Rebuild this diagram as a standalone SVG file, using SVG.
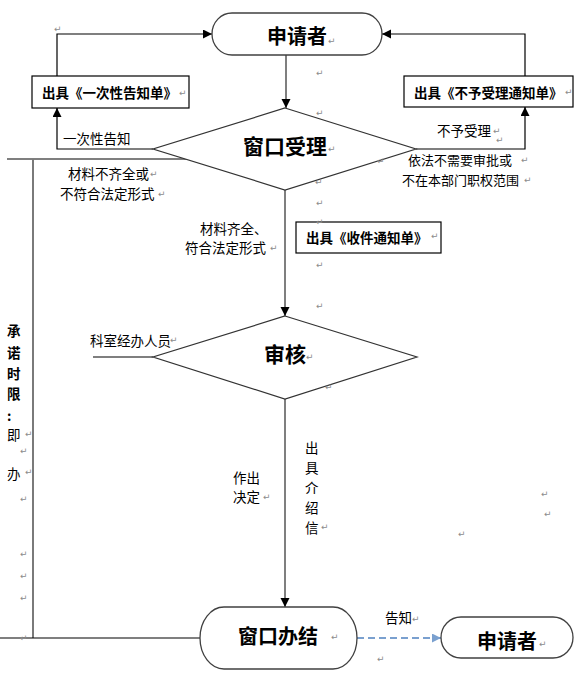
<svg xmlns="http://www.w3.org/2000/svg" width="580" height="676" viewBox="0 0 580 676">
<style>
.t{font-family:"Noto Sans CJK SC","Liberation Sans",sans-serif;fill:#000;}
.big{font-size:20px;font-weight:bold;}
.bx{font-size:13.5px;font-weight:bold;}
.lb{font-size:13.5px;}
.pm{font-family:"DejaVu Sans",sans-serif;font-size:9px;fill:#8c8c8c;}
.shape{fill:#fff;stroke:#333;stroke-width:1.2;}
.term{fill:#fff;stroke:#404040;stroke-width:1.3;}
.box{fill:#fff;stroke:#000;stroke-width:1.2;}
.c{fill:none;stroke:#555;stroke-width:1.5;}
.cb{fill:none;stroke:#000;stroke-width:1.2;}
.cg{fill:none;stroke:#7a7a7a;stroke-width:2;}
.dash{fill:none;stroke:#7aa0cf;stroke-width:2;stroke-dasharray:7,4;}
</style>
<defs>
<marker id="ah" markerUnits="userSpaceOnUse" markerWidth="10" markerHeight="10" refX="9" refY="4.5" orient="auto">
<path d="M0,0 L9,4.5 L0,9 Z" fill="#000"/>
</marker>
<marker id="ahb" markerUnits="userSpaceOnUse" markerWidth="10" markerHeight="10" refX="9" refY="4.5" orient="auto">
<path d="M0,0 L9,4.5 L0,9 Z" fill="#7aa0cf"/>
</marker>
</defs>
<rect width="580" height="676" fill="#fff"/>

<g id="connectors">
<path class="c" d="M286,55 L286,108" marker-end="url(#ah)"/>
<path class="cb" d="M153,149 L57,149 L57,108" marker-end="url(#ah)"/>
<path class="cb" d="M57,76 L57,34 L212,34" marker-end="url(#ah)"/>
<path class="cb" d="M416,149 L525,149 L525,107" marker-end="url(#ah)"/>
<path class="cb" d="M525,76 L525,34 L382,34" marker-end="url(#ah)"/>
<path class="cb" d="M7,159 L186,159"/>
<path class="cg" d="M33,159 L33,638"/>
<path class="cb" d="M0,638 L200,638"/>
<path class="c" d="M285,190 L285,316" marker-end="url(#ah)"/>
<path class="cb" d="M93,357 L153,357"/>
<path class="c" d="M285,399 L285,607" marker-end="url(#ah)"/>
<path class="dash" d="M357,638 L441,638" marker-end="url(#ahb)"/>
</g>

<g id="applicant-top">
<rect class="term" x="212" y="13" width="170" height="42" rx="20" ry="21"/>
<text class="t big" x="297" y="35" text-anchor="middle" dominant-baseline="central">申请者</text>
</g>

<g id="notice-once">
<rect class="box" x="32" y="76" width="157" height="32"/>
<text class="t bx" x="42" y="92" dominant-baseline="central">出具《一次性告知单》</text>
</g>

<g id="notice-reject">
<rect class="box" x="404" y="76" width="169" height="31"/>
<text class="t bx" x="414" y="92" dominant-baseline="central">出具《不予受理通知单》</text>
</g>

<g id="window-accept">
<polygon class="shape" points="285,108 416,149 285,190 153,149"/>
<text class="t big" x="285" y="145" text-anchor="middle" dominant-baseline="central" style="font-size:21px">窗口受理</text>
</g>

<g id="notice-receipt">
<rect class="box" x="296" y="222" width="145" height="31"/>
<text class="t bx" x="306" y="237" dominant-baseline="central">出具《收件通知单》</text>
</g>

<g id="review">
<polygon class="shape" points="285,316 417,357 285,399 153,357"/>
<text class="t big" x="285" y="353" text-anchor="middle" dominant-baseline="central" style="font-size:21px">审核</text>
</g>

<g id="window-done">
<rect class="term" x="200" y="607" width="157" height="62" rx="24" ry="31"/>
<text class="t big" x="278" y="635" text-anchor="middle" dominant-baseline="central">窗口办结</text>
</g>

<g id="applicant-bottom">
<rect class="term" x="441" y="617" width="132" height="41" rx="20" ry="20.5"/>
<text class="t big" x="507" y="640" text-anchor="middle" dominant-baseline="central">申请者</text>
</g>

<g id="labels">
<text class="t lb" x="63" y="138" dominant-baseline="central">一次性告知</text>
<text class="t lb" x="437" y="130" dominant-baseline="central">不予受理</text>
<text class="t lb" x="408" y="159" dominant-baseline="central" style="font-size:13px">依法不需要审批或</text>
<text class="t lb" x="402" y="179" dominant-baseline="central" style="font-size:13px">不在本部门职权范围</text>
<text class="t lb" x="68" y="173" dominant-baseline="central">材料不齐全或</text>
<text class="t lb" x="60" y="193" dominant-baseline="central">不符合法定形式</text>
<text class="t lb" x="200" y="228" dominant-baseline="central">材料齐全、</text>
<text class="t lb" x="185" y="247" dominant-baseline="central">符合法定形式</text>
<text class="t lb" x="90" y="340" dominant-baseline="central">科室经办人员</text>
<text class="t lb" x="233" y="477" dominant-baseline="central">作出</text>
<text class="t lb" x="233" y="496" dominant-baseline="central">决定</text>
<text class="t lb" x="305" y="447" dominant-baseline="central">出</text>
<text class="t lb" x="305" y="467" dominant-baseline="central">具</text>
<text class="t lb" x="305" y="487" dominant-baseline="central">介</text>
<text class="t lb" x="305" y="507" dominant-baseline="central">绍</text>
<text class="t lb" x="305" y="527" dominant-baseline="central">信</text>
<text class="t lb" x="385" y="617" dominant-baseline="central">告知</text>
<text class="t bx" x="7" y="330" dominant-baseline="central">承</text>
<text class="t bx" x="7" y="352" dominant-baseline="central">诺</text>
<text class="t bx" x="7" y="373" dominant-baseline="central">时</text>
<text class="t bx" x="7" y="393" dominant-baseline="central">限</text>
<text class="t bx" x="7" y="415" dominant-baseline="central">:</text>
<text class="t lb" x="7" y="434" dominant-baseline="central">即</text>
<text class="t lb" x="7" y="473" dominant-baseline="central">办</text>
</g>

<g id="paragraph-marks">
<text class="pm" x="54" y="32">↵</text>
<text class="pm" x="328" y="44">↵</text>
<text class="pm" x="179" y="96">↵</text>
<text class="pm" x="565" y="95">↵</text>
<text class="pm" x="316" y="76">↵</text>
<text class="pm" x="316" y="116">↵</text>
<text class="pm" x="328" y="152">↵</text>
<text class="pm" x="493" y="134">↵</text>
<text class="pm" x="496" y="143">↵</text>
<text class="pm" x="521" y="163">↵</text>
<text class="pm" x="524" y="183">↵</text>
<text class="pm" x="377" y="164">↵</text>
<text class="pm" x="315" y="185">↵</text>
<text class="pm" x="150" y="177">↵</text>
<text class="pm" x="158" y="197">↵</text>
<text class="pm" x="270" y="251">↵</text>
<text class="pm" x="316" y="206">↵</text>
<text class="pm" x="316" y="225">↵</text>
<text class="pm" x="316" y="268">↵</text>
<text class="pm" x="316" y="309">↵</text>
<text class="pm" x="431" y="239">↵</text>
<text class="pm" x="170" y="343">↵</text>
<text class="pm" x="306" y="360">↵</text>
<text class="pm" x="325" y="390">↵</text>
<text class="pm" x="25" y="437">↵</text>
<text class="pm" x="20" y="454">↵</text>
<text class="pm" x="25" y="475">↵</text>
<text class="pm" x="20" y="502">↵</text>
<text class="pm" x="20" y="557">↵</text>
<text class="pm" x="20" y="579">↵</text>
<text class="pm" x="20" y="601">↵</text>
<text class="pm" x="20" y="641">↵</text>
<text class="pm" x="263" y="500">↵</text>
<text class="pm" x="321" y="530">↵</text>
<text class="pm" x="541" y="497">↵</text>
<text class="pm" x="544" y="517">↵</text>
<text class="pm" x="458" y="537">↵</text>
<text class="pm" x="331" y="640">↵</text>
<text class="pm" x="412" y="622">↵</text>
<text class="pm" x="377" y="662">↵</text>
<text class="pm" x="539" y="647">↵</text>
</g>
</svg>
